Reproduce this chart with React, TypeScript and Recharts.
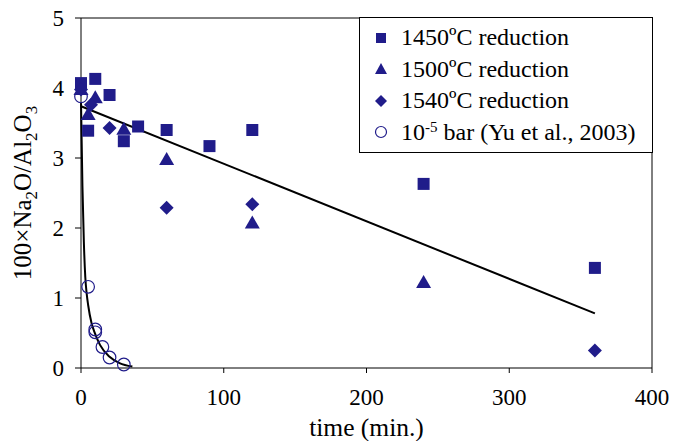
import React from "react";
import {
  ComposedChart,
  XAxis,
  YAxis,
  Scatter,
  Line,
  Legend,
  ReferenceLine,
} from "recharts";

const TIME_1450 = [0, 5, 10, 20, 30, 40, 60, 90, 120, 240, 360];
const VAL_1450 = [4.07, 3.39, 4.13, 3.9, 3.24, 3.45, 3.4, 3.17, 3.4, 2.63, 1.43];

const TIME_1500 = [0, 5, 10, 30, 60, 120, 240];
const VAL_1500 = [3.98, 3.62, 3.86, 3.41, 2.98, 2.07, 1.22];

const TIME_1540 = [0, 7, 20, 60, 120, 360];
const VAL_1540 = [3.98, 3.76, 3.43, 2.29, 2.34, 0.25];

const TIME_YU = [0, 5, 10, 10, 15, 20, 30];
const VAL_YU = [3.88, 1.16, 0.55, 0.51, 0.3, 0.15, 0.05];

const CURVE_T = [0, 1, 2, 3, 4, 5, 7.4, 9.3, 13.3, 20, 27, 36];
const CURVE_V = [3.8, 2.6, 1.8, 1.3, 1.06, 0.9, 0.64, 0.52, 0.33, 0.16, 0.07, 0.02];

const TREND_T = [0, 360];
const TREND_V = [3.74, 0.78];

const X_TICKS = [0, 100, 200, 300, 400];
const Y_TICKS = [0, 1, 2, 3, 4, 5];

const LEGEND_LABELS = ["1450ºC reduction", "1500ºC reduction", "1540ºC reduction"];

const zip = (t: number[], v: number[]) => t.map((x, i) => ({ x, y: v[i] }));

const d1450 = zip(TIME_1450, VAL_1450);
const d1500 = zip(TIME_1500, VAL_1500);
const d1540 = zip(TIME_1540, VAL_1540);
const dYu = zip(TIME_YU, VAL_YU);
const dCurve = zip(CURVE_T, CURVE_V);
const dTrend = zip(TREND_T, TREND_V);

const BLUE = "#201c8a";
const FONT = "'Liberation Serif', 'Times New Roman', serif";

const Square = (p: any) => (
  <rect x={p.cx - 6} y={p.cy - 6} width={12} height={12} fill={BLUE} />
);
const Triangle = (p: any) => (
  <polygon
    points={`${p.cx},${p.cy - 7.5} ${p.cx + 7.5},${p.cy + 5.5} ${p.cx - 7.5},${p.cy + 5.5}`}
    fill={BLUE}
  />
);
const Diamond = (p: any) => (
  <polygon
    points={`${p.cx},${p.cy - 7} ${p.cx + 7},${p.cy} ${p.cx},${p.cy + 7} ${p.cx - 7},${p.cy}`}
    fill={BLUE}
  />
);
const Circle = (p: any) => (
  <circle cx={p.cx} cy={p.cy} r={6.3} fill="none" stroke={BLUE} strokeWidth={1.2} />
);

const legendIcon = (kind: number) => {
  const c = 8;
  if (kind === 0) return <rect x={c - 5} y={c - 5} width={10} height={10} fill={BLUE} />;
  if (kind === 1)
    return <polygon points={`${c},${c - 6} ${c + 6},${c + 5} ${c - 6},${c + 5}`} fill={BLUE} />;
  if (kind === 2)
    return <polygon points={`${c},${c - 6} ${c + 6},${c} ${c},${c + 6} ${c - 6},${c}`} fill={BLUE} />;
  return <circle cx={c} cy={c} r={5.5} fill="none" stroke={BLUE} strokeWidth={1.2} />;
};

const LegendBox = () => {
  const rows = [0, 1, 2, 3];
  return (
    <div
      style={{
        boxSizing: "border-box",
        width: 294,
        height: 136,
        border: "1px solid #000",
        background: "#fff",
        fontFamily: FONT,
        fontSize: 24,
        color: "#000",
        paddingTop: 4,
      }}
    >
      {rows.map((k) => (
        <div
          key={k}
          style={{ height: 31.5, display: "flex", alignItems: "center", whiteSpace: "nowrap" }}
        >
          <svg width={16} height={16} style={{ marginLeft: 13, marginRight: 12 }}>
            {legendIcon(k)}
          </svg>
          {k < 3 ? (
            <span>{LEGEND_LABELS[k]}</span>
          ) : (
            <span>
              10<sup style={{ fontSize: 15, verticalAlign: "8px" }}>-5</sup> bar (Yu et al., 2003)
            </span>
          )}
        </div>
      ))}
    </div>
  );
};

const YLabel = () => (
  <text
    transform="translate(31,193) rotate(-90)"
    textAnchor="middle"
    fontFamily={FONT}
    fontSize={25}
    fill="#000"
  >
    100×Na<tspan dy={6} fontSize={17}>2</tspan>
    <tspan dy={-6}>O/Al</tspan>
    <tspan dy={6} fontSize={17}>2</tspan>
    <tspan dy={-6}>O</tspan>
    <tspan dy={6} fontSize={17}>3</tspan>
  </text>
);

export default function App() {
  const tickStyle = { fontFamily: FONT, fontSize: 23, fill: "#000" };
  return (
    <div style={{ position: "absolute", left: 0, top: 0, width: 674, height: 441 }}>
      <ComposedChart
        width={674}
        height={441}
        margin={{ top: 18, right: 22, left: 0, bottom: 0 }}
      >
        <XAxis
          dataKey="x"
          type="number"
          domain={[0, 400]}
          ticks={X_TICKS}
          height={73}
          stroke="#000"
          tickSize={5}
          tickMargin={16}
          tick={tickStyle}
          label={{
            value: "time (min.)",
            position: "insideBottom",
            offset: 5,
            style: { fontFamily: FONT, fontSize: 25.5, fill: "#000" },
          }}
        />
        <YAxis
          dataKey="y"
          type="number"
          domain={[0, 5]}
          ticks={Y_TICKS}
          width={81}
          stroke="#000"
          tickSize={6}
          tickMargin={11}
          tick={tickStyle}
          label={{ content: () => <YLabel /> }}
        />
        <ReferenceLine y={5} stroke="#000" />
        <ReferenceLine x={400} stroke="#000" />
        <Line
          data={dTrend}
          dataKey="y"
          type="linear"
          stroke="#000"
          strokeWidth={2}
          dot={false}
          isAnimationActive={false}
          legendType="none"
        />
        <Line
          data={dCurve}
          dataKey="y"
          type="monotone"
          stroke="#000"
          strokeWidth={2}
          dot={false}
          isAnimationActive={false}
          legendType="none"
        />
        <Scatter data={dYu} dataKey="y" shape={Circle} isAnimationActive={false} />
        <Scatter data={d1450} dataKey="y" shape={Square} isAnimationActive={false} />
        <Scatter data={d1500} dataKey="y" shape={Triangle} isAnimationActive={false} />
        <Scatter data={d1540} dataKey="y" shape={Diamond} isAnimationActive={false} />
        <Legend
          layout="vertical"
          align="center"
          verticalAlign="middle"
          content={() => <LegendBox />}
          wrapperStyle={{ position: "absolute", left: 359, top: 17, width: 294, height: 136 }}
        />
      </ComposedChart>
    </div>
  );
}
